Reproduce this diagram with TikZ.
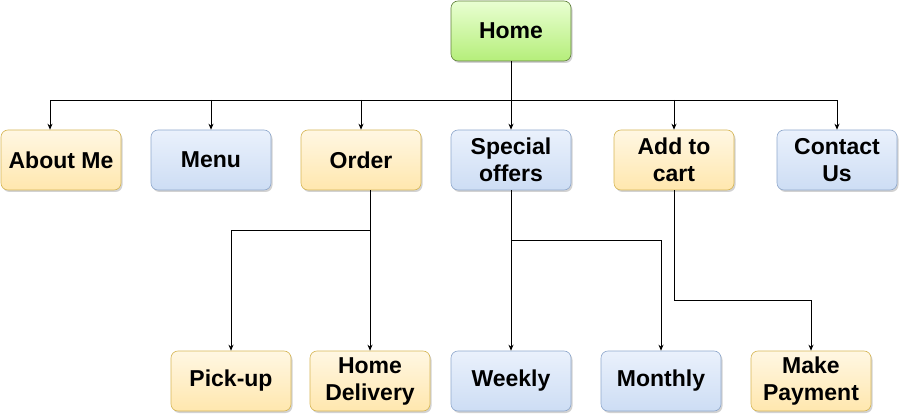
\documentclass[tikz,border=0pt]{standalone}
\usepackage{fontspec}
\setmainfont{Liberation Sans}
\usetikzlibrary{arrows.meta,positioning,shadows}

\definecolor{yelline}{HTML}{D6B656}
\definecolor{yeltop}{HTML}{FFF7E3}
\definecolor{yelbot}{HTML}{FFE7AE}
\definecolor{blueline}{HTML}{8FA8CC}
\definecolor{bluetop}{HTML}{EAF1FC}
\definecolor{bluebot}{HTML}{CDDDF4}
\definecolor{greenline}{HTML}{5F7F3A}
\definecolor{greentop}{HTML}{E9FFD2}
\definecolor{greenbot}{HTML}{B5EE7A}

\begin{document}
\begin{tikzpicture}[
  x=1pt, y=-1pt,
  font=\fontsize{23}{27}\selectfont\bfseries,
  >={Stealth[length=6pt,width=5pt]},
  page/.style={rectangle, rounded corners=7pt, minimum width=120pt, minimum height=60pt,
               align=center, inner sep=1pt, line width=0.6pt,
               drop shadow={shadow xshift=1.5pt, shadow yshift=-2pt, fill=black!35}},
  yelpage/.style={page, draw=yelline, top color=yeltop, bottom color=yelbot},
  bluepage/.style={page, draw=blueline, top color=bluetop, bottom color=bluebot},
  homepage/.style={page, draw=greenline, top color=greentop, bottom color=greenbot},
  link/.style={->, line width=0.8pt, draw=black},
]
\useasboundingbox (0,0) rectangle (900,414);

% top level
\node[homepage] (home) at (511,31) {Home};

% second row
\node[yelpage]  (about)   at (61,160)  {About Me};
\node[bluepage] (menu)    at (211,160) {Menu};
\node[yelpage]  (order)   at (361,160) {Order};
\node[bluepage] (offers)  at (511,160) {Special\\offers};
\node[yelpage]  (cart)    at (674,160) {Add to\\cart};
\node[bluepage] (contact) at (837,160) {Contact\\Us};

% third row
\node[yelpage]  (pickup)   at (231,381) {Pick-up};
\node[yelpage]  (delivery) at (370,381) {Home\\Delivery};
\node[bluepage] (weekly)   at (511,381) {Weekly};
\node[bluepage] (monthly)  at (661,381) {Monthly};
\node[yelpage]  (payment)  at (811,381) {Make\\Payment};

\coordinate (bus) at (511,100);

\draw[link] (home) -- (offers);
\draw[link] (bus) -| ([xshift=-11pt]about.north);
\draw[link] (bus) -| (contact);
\draw[link] (bus -| menu) -- (menu);
\draw[link] (bus -| order) -- (order);
\draw[link] (bus -| cart) -- (cart);

\draw[link] (order.south -| delivery) -- (delivery);
\draw[link] (order.south -| delivery) -- ++(0,40) -| (pickup);

\draw[link] (offers) -- (weekly);
\draw[link] (offers.south) ++(0,50) -| (monthly);

\draw[link] (cart.south) -- ++(0,110) -| (payment);

\end{tikzpicture}
\end{document}
